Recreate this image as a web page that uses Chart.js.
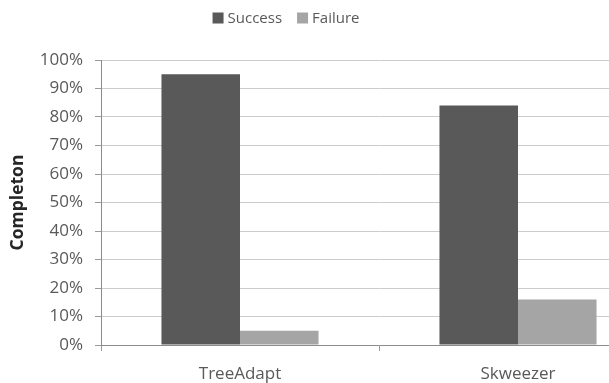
<!DOCTYPE html>
<html>
<head>
<meta charset="utf-8">
<script src="https://cdn.jsdelivr.net/npm/chart.js@4/dist/chart.umd.min.js"></script>
<style>
  html, body { margin: 0; padding: 0; background: #ffffff; }
  #frame { width: 609px; height: 383px; overflow: hidden; position: relative; }
  canvas { display: block; }
</style>
</head>
<body>
<div id="frame"><canvas id="chart" width="657" height="383"></canvas></div>
<script>
// Completion rate per tool, in percent
const categories = ['TreeAdapt', 'Skweezer'];
const successValues = [95, 84];
const failureValues = [5, 16];
const yTickValues = [0, 10, 20, 30, 40, 50, 60, 70, 80, 90, 100];

const FONT = '"Open Sans", "Liberation Sans", sans-serif';
const TEXT = '#595959';

// Small legend row drawn above the plot from the dataset labels and colours
const seriesKey = {
  id: 'seriesKey',
  afterDraw(chart) {
    const ctx = chart.ctx;
    const size = 15, box = 11, gap = 4, itemGap = 15;
    ctx.save();
    ctx.font = size + 'px ' + FONT;
    ctx.textBaseline = 'middle';
    const items = chart.data.datasets.map(ds => ({
      text: ds.label, color: ds.backgroundColor,
      w: box + gap + ctx.measureText(ds.label).width
    }));
    const total = items.reduce((s, it) => s + it.w, 0) + itemGap * (items.length - 1);
    let x = 286 - total / 2;
    const y = 18;
    items.forEach(it => {
      ctx.fillStyle = it.color;
      ctx.fillRect(x, y - box / 2, box, box);
      ctx.fillStyle = TEXT;
      ctx.fillText(it.text, x + box + gap, y + 1);
      x += it.w + itemGap;
    });
    ctx.restore();
  }
};

new Chart(document.getElementById('chart'), {
  type: 'bar',
  data: {
    labels: categories,
    datasets: [
      { label: 'Success', data: successValues, backgroundColor: '#595959',
        barPercentage: 1.0, categoryPercentage: 0.565 },
      { label: 'Failure', data: failureValues, backgroundColor: '#a5a5a5',
        barPercentage: 1.0, categoryPercentage: 0.565 }
    ]
  },
  options: {
    responsive: false,
    animation: false,
    layout: { padding: { top: 60, right: 0, bottom: 0, left: 0 } },
    plugins: {
      legend: { display: false },
      tooltip: { enabled: false }
    },
    scales: {
      x: {
        type: 'category',
        offset: true,
        grid: {
          offset: true,
          drawOnChartArea: false,
          drawTicks: true,
          tickLength: 6,
          color: '#9a9a9a'
        },
        border: { display: true, color: '#8c8c8c', width: 1 },
        ticks: { color: TEXT, font: { family: FONT, size: 17 }, padding: 13 },
        afterFit(scale) { scale.height = 38; }
      },
      y: {
        min: 0,
        max: 100,
        afterBuildTicks(scale) { scale.ticks = yTickValues.map(v => ({ value: v })); },
        grid: {
          color: '#cccccc',
          drawTicks: true,
          tickLength: 6,
          tickColor: '#9a9a9a'
        },
        border: { display: true, color: '#8c8c8c', width: 1 },
        ticks: {
          color: TEXT,
          font: { family: FONT, size: 17 },
          padding: 12,
          callback: v => v + '%'
        },
        title: {
          display: true,
          text: 'Completon',
          color: '#262626',
          font: { family: FONT, size: 17.5, weight: 'bold' },
          padding: { top: 8, bottom: 0 }
        },
        afterFit(scale) { scale.width = 101; }
      }
    }
  },
  plugins: [seriesKey]
});
</script>
</body>
</html>
